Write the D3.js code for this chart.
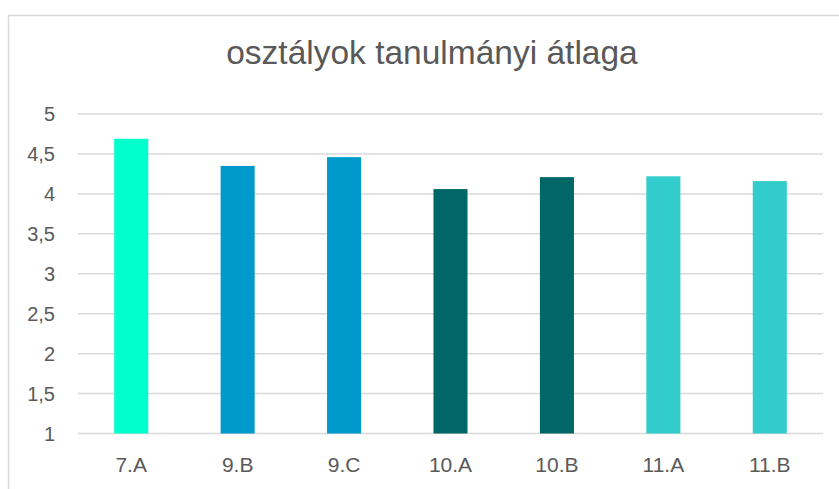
<!DOCTYPE html>
<html>
<head>
<meta charset="utf-8">
<script src="https://cdn.jsdelivr.net/npm/d3@7"></script>
<style>
  body { margin: 0; background: #fff; }
  svg { display: block; font-family: "Liberation Sans", Arial, sans-serif; }
</style>
</head>
<body>
<div class="chart"></div>
<script>
var width = 839
var height = 489

var classes = ["7.A", "9.B", "9.C", "10.A", "10.B", "11.A", "11.B"];
var averages = [4.69, 4.35, 4.46, 4.06, 4.21, 4.22, 4.16];
var yTicks = [1, 1.5, 2, 2.5, 3, 3.5, 4, 4.5, 5];
var grades = ["7", "9", "10", "11"];
var gradeColors = ["#00ffcc", "#0099cc", "#006666", "#33cccc"];

var plot = { left: 78, right: 823, top: 114, bottom: 433.5 };

var svg = d3.select(".chart").append("svg")
    .attr("width", width)
    .attr("height", height);

// chart frame (left and top edges only are visible)
svg.append("path")
    .attr("d", "M8.5," + height + "V15.5H" + width)
    .attr("fill", "none")
    .attr("stroke", "#d9d9d9")
    .attr("stroke-width", 1.5);

var x = d3.scaleBand()
    .domain(classes)
    .range([plot.left, plot.right])
    .paddingInner(0.68)
    .paddingOuter(0.34);

var y = d3.scaleLinear()
    .domain([1, 5])
    .range([plot.bottom, plot.top]);

var color = d3.scaleOrdinal()
    .domain(grades)
    .range(gradeColors);

// grid
svg.append("g")
    .selectAll("line")
    .data(yTicks)
    .enter()
    .append("line")
    .attr("x1", plot.left)
    .attr("x2", plot.right)
    .attr("y1", function(d) { return y(d); })
    .attr("y2", function(d) { return y(d); })
    .attr("stroke", "#d9d9d9")
    .attr("stroke-width", 1.5);

// y labels
svg.append("g")
    .selectAll("text")
    .data(yTicks)
    .enter()
    .append("text")
    .attr("x", 55)
    .attr("y", function(d) { return y(d); })
    .attr("dy", "0.35em")
    .attr("text-anchor", "end")
    .attr("fill", "#595959")
    .style("font-size", "20px")
    .text(function(d) { return String(d).replace(".", ","); });

// bars
svg.append("g")
    .selectAll("rect")
    .data(averages)
    .enter()
    .append("rect")
    .attr("x", function(d, i) { return x(classes[i]); })
    .attr("width", x.bandwidth())
    .attr("y", function(d) { return y(d); })
    .attr("height", function(d) { return y(1) - y(d); })
    .attr("fill", function(d, i) { return color(classes[i].split(".")[0]); });

// x labels
svg.append("g")
    .selectAll("text")
    .data(classes)
    .enter()
    .append("text")
    .attr("x", function(d) { return x(d) + x.bandwidth() / 2; })
    .attr("y", 465)
    .attr("dy", "0.35em")
    .attr("text-anchor", "middle")
    .attr("fill", "#595959")
    .style("font-size", "21px")
    .text(function(d) { return d; });

// title
svg.append("text")
    .attr("x", 432)
    .attr("y", 64)
    .attr("text-anchor", "middle")
    .attr("fill", "#595959")
    .style("font-size", "33.5px")
    .text("osztályok tanulmányi átlaga");
</script>
</body>
</html>
